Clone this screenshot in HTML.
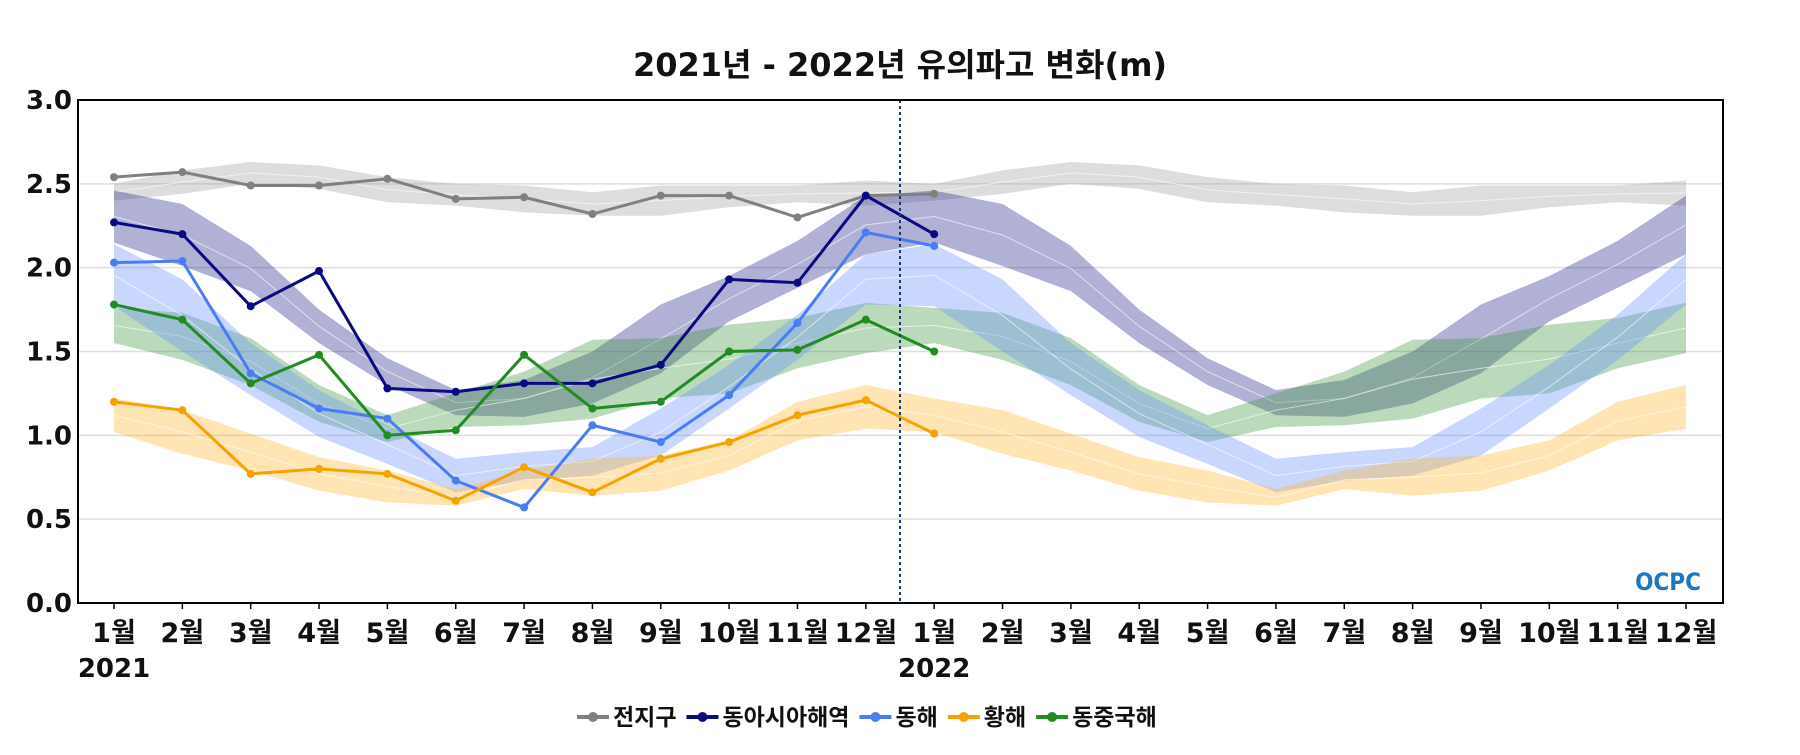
<!DOCTYPE html>
<html><head><meta charset="utf-8">
<style>
body{margin:0;background:#fff;}
svg text{font-family:"DejaVu Sans","Noto Sans CJK KR",sans-serif;font-weight:bold;fill:#111;}
</style></head>
<body>
<svg id="chart" width="1800" height="750" viewBox="0 0 1800 750" xmlns="http://www.w3.org/2000/svg">
<text x="900" y="76" text-anchor="middle" font-size="32">2021년 - 2022년 유의파고 변화(m)</text>
<g id="grid"></g><g id="bands"></g><g id="lines"></g><g id="axes"></g><g id="legend"></g>
<text x="1668" y="590" text-anchor="middle" font-size="24" style="fill:#1a78c0;font-family:'DejaVu Sans Condensed',sans-serif">OCPC</text>
</svg>
<script>
const months=["1월","2월","3월","4월","5월","6월","7월","8월","9월","10월","11월","12월"];
const yTicks=[0,0.5,1.0,1.5,2.0,2.5,3.0];
const globalVals=[2.54,2.57,2.49,2.49,2.53,2.41,2.42,2.32,2.43,2.43,2.30,2.43,2.44];
const eastAsiaVals=[2.27,2.20,1.77,1.98,1.28,1.26,1.31,1.31,1.42,1.93,1.91,2.43,2.20];
const eastSeaVals=[2.03,2.04,1.37,1.16,1.10,0.73,0.57,1.06,0.96,1.24,1.67,2.21,2.13];
const yellowSeaVals=[1.20,1.15,0.77,0.80,0.77,0.61,0.81,0.66,0.86,0.96,1.12,1.21,1.01];
const ecsVals=[1.78,1.69,1.31,1.48,1.00,1.03,1.48,1.16,1.20,1.50,1.51,1.69,1.50];
const globalLo=[2.40,2.44,2.50,2.47,2.39,2.37,2.33,2.31,2.31,2.36,2.39,2.37];
const globalHi=[2.50,2.58,2.63,2.61,2.54,2.50,2.49,2.45,2.49,2.49,2.49,2.52];
const eastAsiaLo=[2.15,2.01,1.86,1.55,1.30,1.12,1.11,1.19,1.37,1.68,1.88,2.08];
const eastAsiaHi=[2.46,2.38,2.13,1.75,1.46,1.27,1.33,1.50,1.78,1.95,2.16,2.43];
const eastSeaLo=[1.77,1.50,1.24,0.99,0.83,0.66,0.73,0.76,0.88,1.16,1.45,1.78];
const eastSeaHi=[2.14,1.93,1.55,1.27,1.06,0.86,0.90,0.93,1.16,1.42,1.72,2.08];
const yellowSeaLo=[1.02,0.89,0.79,0.67,0.60,0.58,0.68,0.64,0.67,0.79,0.97,1.04];
const yellowSeaHi=[1.22,1.15,1.01,0.87,0.79,0.68,0.79,0.86,0.88,0.97,1.20,1.30];
const ecsLo=[1.55,1.45,1.30,1.08,0.96,1.05,1.06,1.10,1.22,1.25,1.40,1.49];
const ecsHi=[1.76,1.73,1.58,1.30,1.12,1.25,1.38,1.57,1.58,1.66,1.70,1.79];

const NS="http://www.w3.org/2000/svg";
const L=78,R=1723,T=100,B=603,X0=114,DX=(1686-114)/23;
const x=i=>X0+i*DX, y=v=>B-(v/3)*(B-T);
function mk(tag,attrs,parent){const e=document.createElementNS(NS,tag);for(const k in attrs)e.setAttribute(k,attrs[k]);parent.appendChild(e);return e;}
const g=id=>document.getElementById(id);

yTicks.forEach(v=>{
  if(v>0&&v<3){const l=mk('line',{x1:L,x2:R,y1:y(v),y2:y(v),stroke:'#ddd','stroke-width':1.5},g('grid'));
  
  }
  const t=mk('text',{x:72,y:y(v)+9,'text-anchor':'end','font-size':26},g('axes'));t.textContent=v.toFixed(1);
  
  
});
const bands=[
 ['global-band',globalLo,globalHi,'rgba(170,170,170,0.4)'],
 ['east-asia-band',eastAsiaLo,eastAsiaHi,'rgba(60,60,150,0.4)'],
 ['ecs-band',ecsLo,ecsHi,'rgba(60,150,60,0.35)'],
 ['east-sea-band',eastSeaLo,eastSeaHi,'rgba(100,140,255,0.35)'],
 ['yellow-sea-band',yellowSeaLo,yellowSeaHi,'rgba(255,180,40,0.35)']];
bands.forEach(b=>{
  const lo=b[1].concat(b[1]),hi=b[2].concat(b[2]);
  let d='';hi.forEach((v,i)=>d+=(i?'L':'M')+x(i)+','+y(v));
  for(let i=lo.length-1;i>=0;i--)d+='L'+x(i)+','+y(lo[i]);
  const p=mk('path',{d:d+'Z',fill:b[3]},g('bands'));
  
  
  let m='';hi.forEach((v,i)=>m+=(i?'L':'M')+x(i)+','+y((v+lo[i])/2));
  const c=mk('path',{d:m,fill:'none',stroke:'rgba(255,255,255,0.6)','stroke-width':1},g('bands'));
  
  
});
const series=[['전지구',globalVals,'#808080','global-line'],['동아시아해역',eastAsiaVals,'#0a0a80','east-asia-line'],['동해',eastSeaVals,'#4a7cf5','east-sea-line'],['황해',yellowSeaVals,'#f5a300','yellow-sea-line'],['동중국해',ecsVals,'#228b22','ecs-line']];
series.forEach(s=>{
  const pl=mk('polyline',{points:s[1].map((v,i)=>x(i)+','+y(v)).join(' '),fill:'none',stroke:s[2],'stroke-width':3},g('lines'));
  
  
  s[1].forEach((v,i)=>{const c=mk('circle',{cx:x(i),cy:y(v),r:4,fill:s[2]},g('lines'));
  
  });
});
const dl=mk('line',{x1:(x(11)+x(12))/2,x2:(x(11)+x(12))/2,y1:T,y2:B,stroke:'#1a3a6a','stroke-width':2,'stroke-dasharray':'3,3'},g('axes'));


const fr=mk('rect',{x:L,y:T,width:R-L,height:B-T,fill:'none',stroke:'#000','stroke-width':2},g('axes'));


for(let i=0;i<24;i++){
  const tk=mk('line',{x1:x(i),x2:x(i),y1:B,y2:B+6,stroke:'#000','stroke-width':1.5},g('axes'));
  
  
  const t=mk('text',{x:x(i),y:642,'text-anchor':'middle','font-size':27},g('axes'));t.textContent=months[i%12];
  
  
}
['2021','2022'].forEach((yr,k)=>{const t=mk('text',{x:x(k*12),y:677,'text-anchor':'middle','font-size':26},g('axes'));t.textContent=yr;
  
  });
let lx=577;
series.forEach(s=>{
  const ln=mk('line',{x1:lx,x2:lx+32,y1:717,y2:717,stroke:s[2],'stroke-width':4},g('legend'));
  
  
  mk('circle',{cx:lx+16,cy:717,r:5,fill:s[2]},g('legend'));
  const t=mk('text',{x:lx+36,y:725,'font-size':23},g('legend'));t.textContent=s[0];
  
  
  lx+=36+t.getComputedTextLength()+10;
});
</script>
</body></html>
